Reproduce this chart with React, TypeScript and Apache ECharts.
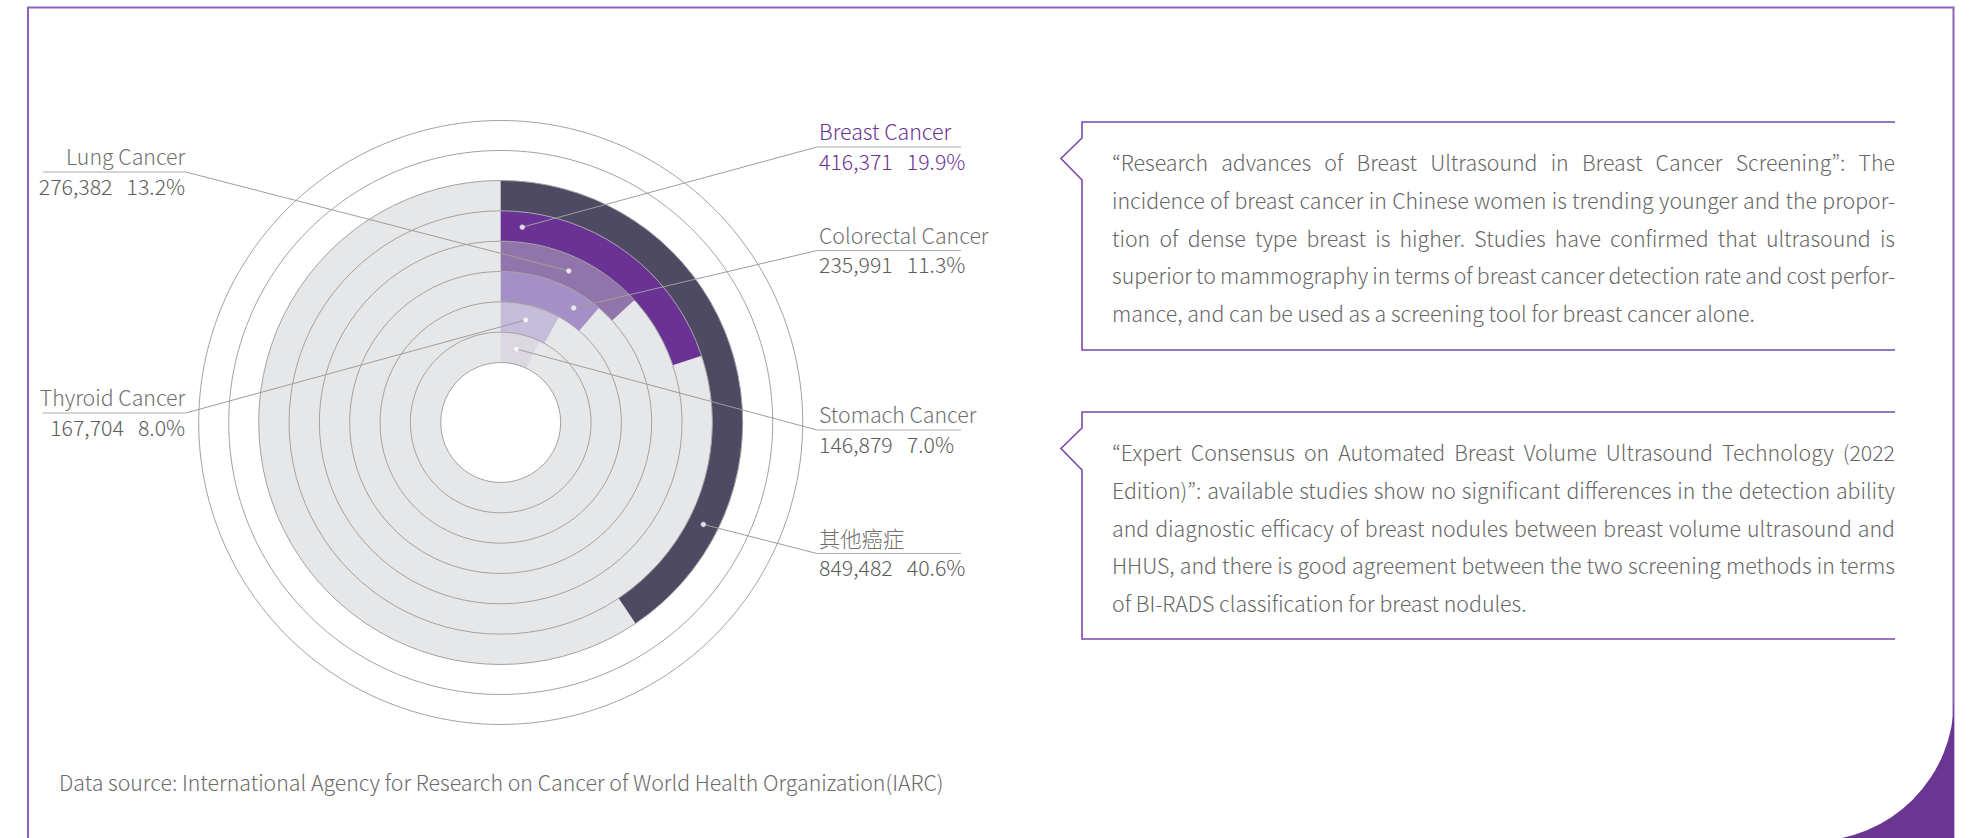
import React, { useEffect, useRef } from "react";
import * as echarts from "echarts";

// ---------- data ----------
const categories = ["Stomach Cancer", "Thyroid Cancer", "Colorectal Cancer", "Lung Cancer", "Breast Cancer", "其他癌症"];
const cases = [146879, 167704, 235991, 276382, 416371, 849482];
const bandColors = ["#dcd8e2", "#c5bbdb", "#a490c6", "#9175aa", "#6b3295", "#4e4a64"];

const box1Lines = [
  "\u201cResearch advances of Breast Ultrasound in Breast Cancer Screening\u201d: The",
  "incidence of breast cancer in Chinese women is trending younger and the propor-",
  "tion of dense type breast is higher. Studies have confirmed that ultrasound is",
  "superior to mammography in terms of breast cancer detection rate and cost perfor-",
  "mance, and can be used as a screening tool for breast cancer alone.",
];
const box2Lines = [
  "\u201cExpert Consensus on Automated Breast Volume Ultrasound Technology (2022",
  "Edition)\u201d: available studies show no significant differences in the detection ability",
  "and diagnostic efficacy of breast nodules between breast volume ultrasound and",
  "HHUS, and there is good agreement between the two screening methods in terms",
  "of BI-RADS classification for breast nodules.",
];
const footnote = "Data source: International Agency for Research on Cancer of World Health Organization(IARC)";
const highlight = "Breast Cancer";

// ---------- layout ----------
const W = 1975;
const H = 838;
const CX = 500.7;
const CY = 422.5;
const INNER_R = 60;
const OUTER_R = 242;
const DECOR_R = [272, 302];
const anchorDeg = [12.1, 13.7, 32.5, 24.2, 6.3, 116.7];
const labelSide = ["right", "left", "right", "left", "right", "right"];
const labelLineY = [430, 413, 250.5, 172, 147, 553.5];
const RIGHT_X0 = 817;
const RIGHT_X1 = 961;
const LEFT_X0 = 42.7;
const LEFT_X1 = 185.7;

const LABEL_FAMILY = '"Noto Sans CJK SC", "Noto Sans", sans-serif';
const BODY_FAMILY = '"Noto Sans CJK KR", "Noto Sans CJK SC", "Noto Sans", sans-serif';
const LABEL_SIZE = 21.3;
const BODY_SIZE = 21.3;
const BODY_X0 = 1112;
const BODY_X1 = 1895;
const LINE_GAP = 37.6;

const fmt = (n: number) => n.toLocaleString("en-US");

let measureCtx: CanvasRenderingContext2D | null = null;
function textWidth(s: string, font: string) {
  if (!measureCtx) measureCtx = document.createElement("canvas").getContext("2d");
  measureCtx!.font = font;
  return measureCtx!.measureText(s).width;
}

echarts.graphic.registerShape(
  "cornerFill",
  echarts.graphic.extendPath("M 141 0 A 141 141 0 0 1 0 141 L 141 141 Z", {})
);

export default function App() {
  const ref = useRef<HTMLDivElement>(null);

  useEffect(() => {
    const el = ref.current!;
    const chart = echarts.init(el, null, { renderer: "svg", width: W, height: H });
    const total = cases.reduce((a, b) => a + b, 0);

    chart.setOption({
      animation: false,
      backgroundColor: "#ffffff",
      polar: { center: [CX, CY], radius: [INNER_R, OUTER_R] },
      angleAxis: { type: "value", min: 0, max: total, startAngle: 90, clockwise: true, show: false },
      radiusAxis: { type: "category", data: categories, show: false },
      series: [
        {
          type: "bar",
          coordinateSystem: "polar",
          barCategoryGap: "0%",
          showBackground: true,
          backgroundStyle: { color: "#e6e7e9" },
          data: cases.map((v, i) => ({ value: v, itemStyle: { color: bandColors[i] } })),
          z: 2,
          silent: true,
        },
        {
          type: "scatter",
          coordinateSystem: "polar",
          symbolSize: 5,
          itemStyle: { color: "#ffffff", borderColor: "#d8d8d8", borderWidth: 0.5 },
          data: anchorDeg.map((d, i) => [i, (d / 360) * total]),
          z: 70,
          silent: true,
        },
      ],
    });

    const labelFont = `300 ${LABEL_SIZE}px ${LABEL_FAMILY}`;
    const bodyFont = `300 ${BODY_SIZE}px ${BODY_FAMILY}`;
    const elements: any[] = [];

    // frame
    elements.push({
      type: "polyline",
      z: 1,
      shape: { points: [[28, H + 2], [28, 7.5], [1953.5, 7.5], [1953.5, H + 2]] },
      style: { stroke: "#8a62b9", lineWidth: 2, fill: null },
    });
    elements.push({
      type: "cornerFill",
      x: 1813,
      y: 700,
      z: 2,
      style: { fill: "#6b3592", stroke: null },
    });

    // rings
    const n = categories.length;
    const ringR: number[] = [];
    for (let i = 0; i <= n; i++) ringR.push(INNER_R + ((OUTER_R - INNER_R) * i) / n);
    DECOR_R.forEach((r) => ringR.push(r));
    ringR.forEach((r) => {
      elements.push({
        type: "circle",
        z: 50,
        shape: { cx: CX, cy: CY, r },
        style: { fill: null, stroke: "#a2a2a2", lineWidth: 1 },
      });
    });

    // labels
    categories.forEach((name, i) => {
      const p = chart.convertToPixel({ seriesIndex: 1 }, [i, (anchorDeg[i] / 360) * total]) as number[];
      const uy = labelLineY[i];
      const right = labelSide[i] === "right";
      const jx = right ? RIGHT_X0 : LEFT_X1;
      const color = name === highlight ? "#6b3295" : "#707070";
      const vcolor = name === highlight ? "#6b3295" : "#5c5c5c";
      const pct = ((cases[i] / total) * 100).toFixed(1) + "%";
      elements.push({
        type: "polyline",
        z: 60,
        shape: { points: [[p[0], p[1]], [jx, uy]] },
        style: { stroke: "#9d9d9d", lineWidth: 1, fill: null },
      });
      elements.push({
        type: "line",
        z: 60,
        shape: right ? { x1: RIGHT_X0, y1: uy, x2: RIGHT_X1, y2: uy } : { x1: LEFT_X0, y1: uy, x2: LEFT_X1, y2: uy },
        style: { stroke: "#ababab", lineWidth: 1.2 },
      });
      const tx = right ? RIGHT_X0 + 2 : LEFT_X1 - 0.5;
      elements.push({
        type: "text",
        z: 60,
        x: tx,
        y: uy - 16.5,
        style: { text: name, font: labelFont, fill: color, textAlign: right ? "left" : "right", textVerticalAlign: "middle" },
      });
      elements.push({
        type: "text",
        z: 60,
        x: tx,
        y: uy + 13,
        style: {
          text: `${fmt(cases[i])} \u00a0\u00a0${pct}`,
          font: labelFont,
          fill: vcolor,
          textAlign: right ? "left" : "right",
          textVerticalAlign: "middle",
        },
      });
    });

    // text boxes
    const boxes = [
      { top: 122, bottom: 350, firstY: 161.8, lines: box1Lines },
      { top: 412, bottom: 639, firstY: 451.8, lines: box2Lines },
    ];
    const bodyStyle = (text: string) => ({
      text,
      font: bodyFont,
      fill: "#666666",
      textAlign: "left",
      textVerticalAlign: "middle",
    });
    boxes.forEach((b) => {
      elements.push({
        type: "polyline",
        z: 10,
        shape: {
          points: [
            [BODY_X1, b.top],
            [1082, b.top],
            [1082, b.top + 16],
            [1061, b.top + 36.5],
            [1082, b.top + 58],
            [1082, b.bottom],
            [BODY_X1, b.bottom],
          ],
        },
        style: { stroke: "#7a48aa", lineWidth: 1.6, fill: null },
      });
      b.lines.forEach((ln, k) => {
        const last = k === b.lines.length - 1;
        const y = b.firstY + k * LINE_GAP;
        if (last) {
          elements.push({ type: "text", z: 10, x: BODY_X0, y, style: bodyStyle(ln) });
          return;
        }
        // justified line: words spread across the full width
        const words = ln.split(" ");
        const widths = words.map((w) => textWidth(w, bodyFont));
        const sum = widths.reduce((a, c) => a + c, 0);
        const gap = (BODY_X1 - BODY_X0 - sum) / (words.length - 1);
        let x = BODY_X0;
        words.forEach((w, j) => {
          elements.push({ type: "text", z: 10, x, y, style: bodyStyle(w) });
          x += widths[j] + gap;
        });
      });
    });

    // footnote
    elements.push({
      type: "text",
      z: 10,
      x: 59,
      y: 781.5,
      style: { text: footnote, font: bodyFont, fill: "#6a6a6a", textAlign: "left", textVerticalAlign: "middle" },
    });

    chart.setOption({ graphic: { elements } });

    return () => chart.dispose();
  }, []);

  return (
    <div
      ref={ref}
      style={{ position: "fixed", left: 0, top: 0, width: W, height: H, background: "#ffffff" }}
    />
  );
}
